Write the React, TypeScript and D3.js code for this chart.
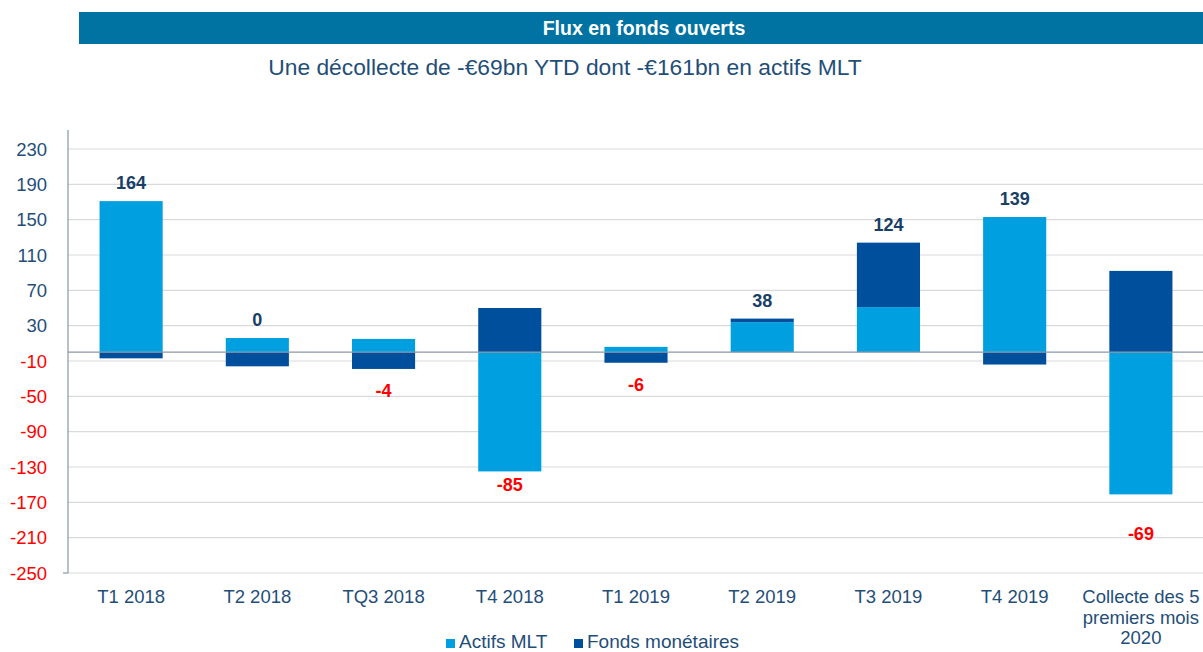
import React from "react";
import * as d3 from "d3";

const categories = [
  "T1 2018",
  "T2 2018",
  "TQ3 2018",
  "T4 2018",
  "T1 2019",
  "T2 2019",
  "T3 2019",
  "T4 2019",
  "Collecte des 5\npremiers mois\n2020",
];
const actifsMLT = [171, 16, 15, -135, 6, 34, 51, 153, -161];
const fondsMonetaires = [-7, -16, -19, 50, -12, 4, 73, -14, 92];
const totals = [164, 0, -4, -85, -6, 38, 124, 139, -69];
const yTicks = [230, 190, 150, 110, 70, 30, -10, -50, -90, -130, -170, -210, -250];
const seriesNames = ["Actifs MLT", "Fonds monétaires"];

const W = 1203;
const H = 652;
const LIGHT = "#00a0e0";
const DARK = "#004f9c";
const NAVY = "#1f4e79";
const FONT = "'Liberation Sans', Arial, sans-serif";

export default function App() {
  const left = 68;
  const right = 1204;
  const top = 149;
  const bottom = 573;

  const x = d3
    .scaleBand<string>()
    .domain(categories)
    .range([left, right])
    .paddingInner(0.5)
    .paddingOuter(0.25);
  const y = d3.scaleLinear().domain([-250, 230]).range([bottom, top]);

  const bars: { key: string; x: number; y0: number; y1: number; color: string }[] = [];
  categories.forEach((c, i) => {
    let pos = 0;
    let neg = 0;
    const segs = [
      { v: actifsMLT[i], color: LIGHT },
      { v: fondsMonetaires[i], color: DARK },
    ];
    segs.forEach((s, j) => {
      let a: number, b: number;
      if (s.v >= 0) {
        a = pos;
        b = pos + s.v;
        pos = b;
      } else {
        a = neg;
        b = neg + s.v;
        neg = b;
      }
      bars.push({ key: `${i}-${j}`, x: x(c)!, y0: y(Math.max(a, b)), y1: y(Math.min(a, b)), color: s.color });
    });
  });

  return (
    <svg width={W} height={H} style={{ position: "absolute", left: 0, top: 0, background: "#fff" }} fontFamily={FONT}>
      {/* header */}
      <rect x={79} y={12} width={W - 79} height={32} fill="#0073a2" />
      <text x={644} y={35} textAnchor="middle" fill="#fff" fontWeight="bold" fontSize={19.5}>
        Flux en fonds ouverts
      </text>
      <text x={565} y={75} textAnchor="middle" fill={NAVY} fontSize={22.8}>
        Une décollecte de -€69bn YTD dont -€161bn en actifs MLT
      </text>

      {/* gridlines */}
      {yTicks.map((t) => (
        <line key={t} x1={left} x2={W} y1={y(t)} y2={y(t)} stroke="#d9d9d9" strokeWidth={1.2} />
      ))}

      {/* bars */}
      {bars.map((b) => (
        <rect key={b.key} x={b.x} y={b.y0} width={x.bandwidth()} height={Math.max(0, b.y1 - b.y0)} fill={b.color} />
      ))}

      {/* zero line */}
      <line x1={left} x2={W} y1={y(0)} y2={y(0)} stroke="#8c96a8" strokeWidth={1.2} />
      {/* y axis */}
      <line x1={left} x2={left} y1={130} y2={bottom} stroke="#8c96a8" strokeWidth={1.2} />
      <line x1={left - 5} x2={left} y1={bottom} y2={bottom} stroke="#8c96a8" strokeWidth={1.2} />

      {yTicks.map((t) => (
        <text key={t} x={47} y={y(t) + 6.5} textAnchor="end" fontSize={18.5} fill={t < 0 ? "#ff0000" : NAVY}>
          {t}
        </text>
      ))}

      {/* x labels */}
      {categories.map((c) => (
        <text key={c} x={x(c)! + x.bandwidth() / 2} y={603} textAnchor="middle" fontSize={18.5} fill={NAVY}>
          {c.split("\n").map((line, k) => (
            <tspan key={k} x={x(c)! + x.bandwidth() / 2} dy={k === 0 ? 0 : 20.5}>
              {line}
            </tspan>
          ))}
        </text>
      ))}

      {/* total labels */}
      {categories.map((c, i) => {
        const tv = totals[i];
        const maxV = Math.max(0, actifsMLT[i]) + Math.max(0, fondsMonetaires[i]);
        const minV = Math.min(0, actifsMLT[i]) + Math.min(0, fondsMonetaires[i]);
        const cx = x(c)! + x.bandwidth() / 2;
        if (tv >= 0) {
          return (
            <text key={c} x={cx} y={y(maxV) - 12} textAnchor="middle" fontSize={18} fontWeight="bold" fill="#1a3f66">
              {tv}
            </text>
          );
        }
        const extra = i === 8 ? 46 : i === 3 ? 20 : 28;
        return (
          <text key={c} x={cx} y={y(minV) + extra} textAnchor="middle" fontSize={18} fontWeight="bold" fill="#ff0000">
            {tv}
          </text>
        );
      })}

      {/* legend */}
      <rect x={446} y={639} width={9} height={9} fill={LIGHT} />
      <text x={459} y={648} fontSize={19} fill={NAVY}>
        {seriesNames[0]}
      </text>
      <rect x={574} y={639} width={9} height={9} fill={DARK} />
      <text x={587} y={648} fontSize={19} fill={NAVY}>
        {seriesNames[1]}
      </text>
    </svg>
  );
}
